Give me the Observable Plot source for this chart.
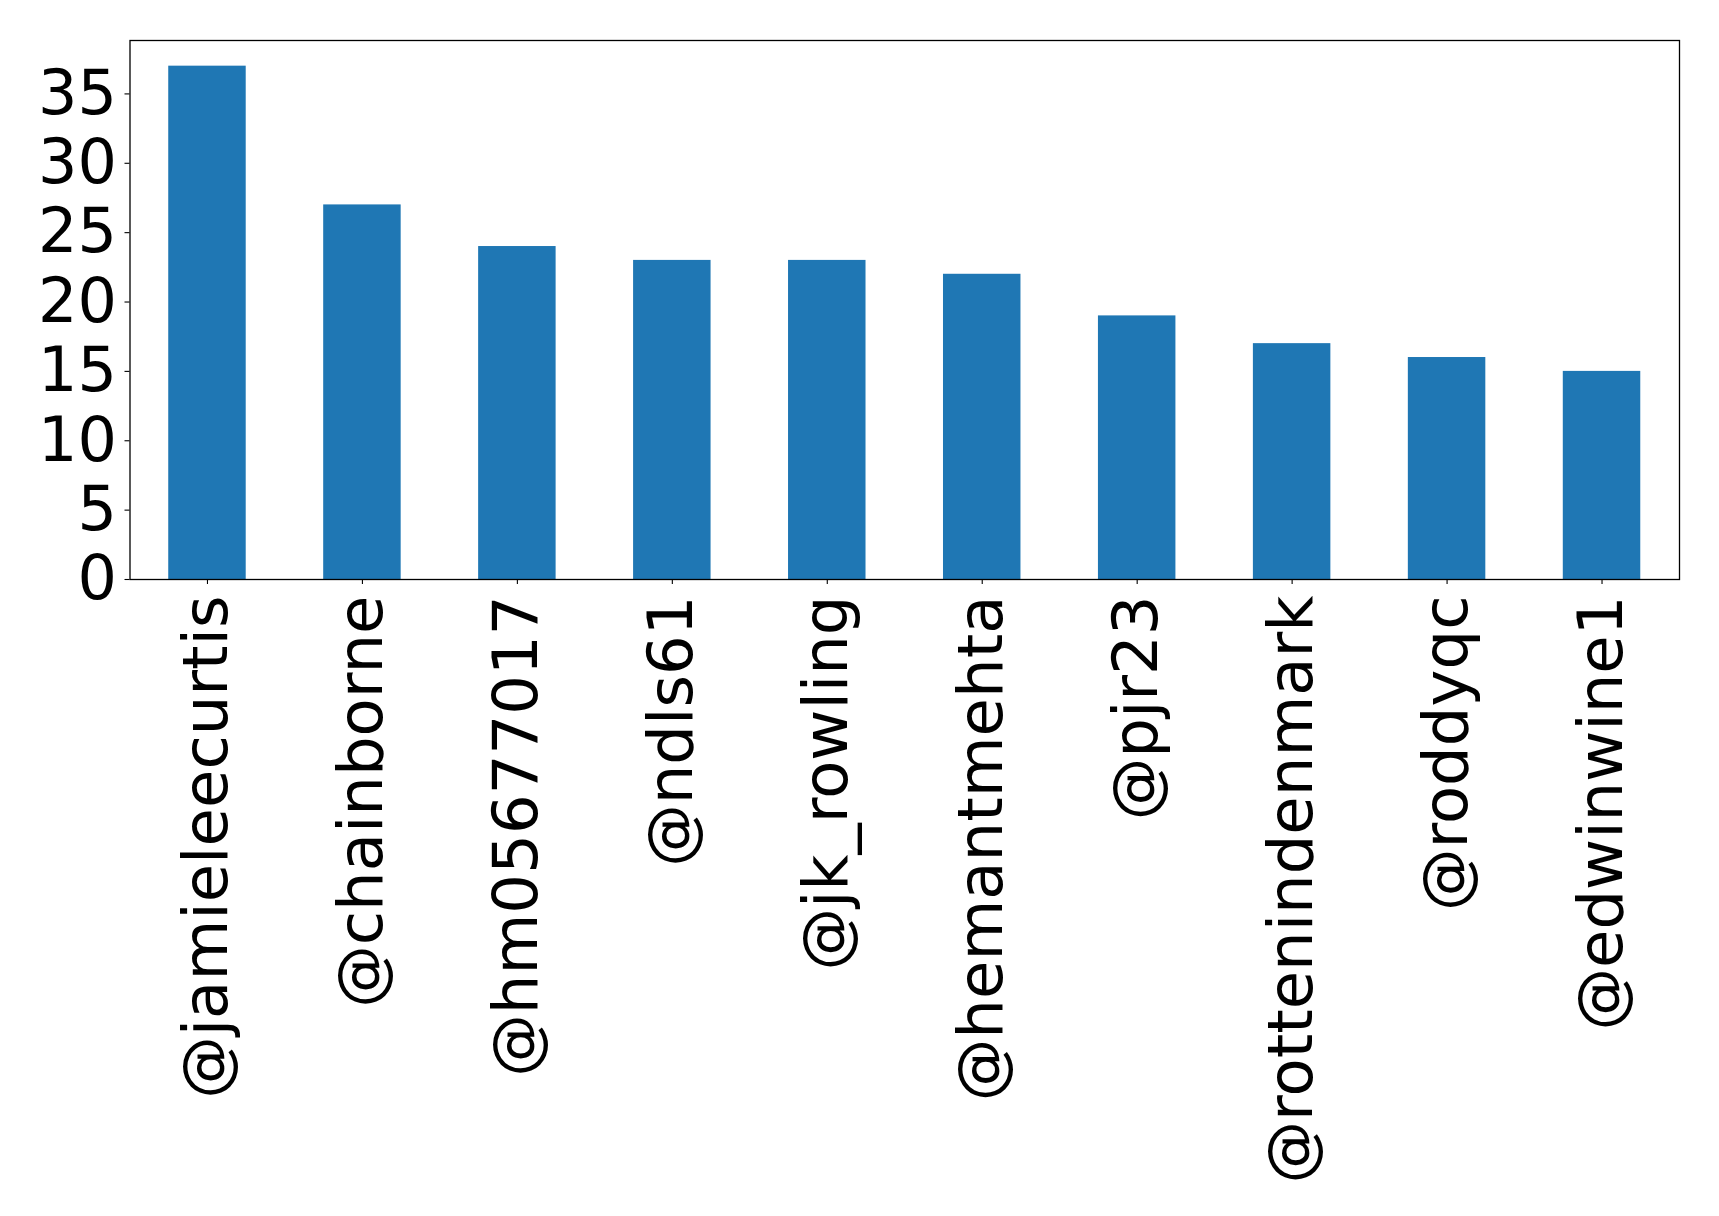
<!DOCTYPE html>
<html>
<head>
<meta charset="utf-8">
<script src="https://cdn.jsdelivr.net/npm/d3@7"></script>
<script src="https://cdn.jsdelivr.net/npm/@observablehq/plot@0.6"></script>
<style>
  html, body { margin: 0; padding: 0; background: #fff; }
  svg { display: block; }
</style>
</head>
<body>
<div id="chart"></div>
<script>
const users = ["@jamieleecurtis", "@chainborne", "@hm05677017", "@ndls61", "@jk_rowling", "@hemantmehta", "@pjr23", "@rottenindenmark", "@roddyqc", "@edwinwine1"];
const counts = [37, 27, 24, 23, 23, 22, 19, 17, 16, 15];
const yTicks = [0, 5, 10, 15, 20, 25, 30, 35];

const data = users.map((u, i) => ({user: u, count: counts[i]}));

const chart = Plot.plot({
  width: 1719,
  height: 1216,
  marginLeft: 129.5,
  marginRight: 40,
  marginTop: 40,
  marginBottom: 637,
  style: {fontFamily: "DejaVu Sans", background: "#fff", color: "#000"},
  x: {domain: users, paddingInner: 0.5, paddingOuter: 0.25, round: false},
  y: {domain: [0, 38.85]},
  marks: [
    Plot.barY(data, {x: "user", y: "count", fill: "#1f77b4"}),
    Plot.frame({stroke: "#000", strokeWidth: 1.3}),
    Plot.axisY({ticks: yTicks, tickSize: 5, tickPadding: 8, fontSize: 62, label: null, stroke: "#000", strokeWidth: 1.1}),
    Plot.axisX({tickSize: 5, tickPadding: 11, tickRotate: -90, fontSize: 62.5, label: null, stroke: "#000", strokeWidth: 1.1})
  ]
});
document.getElementById("chart").appendChild(chart);
</script>
</body>
</html>
